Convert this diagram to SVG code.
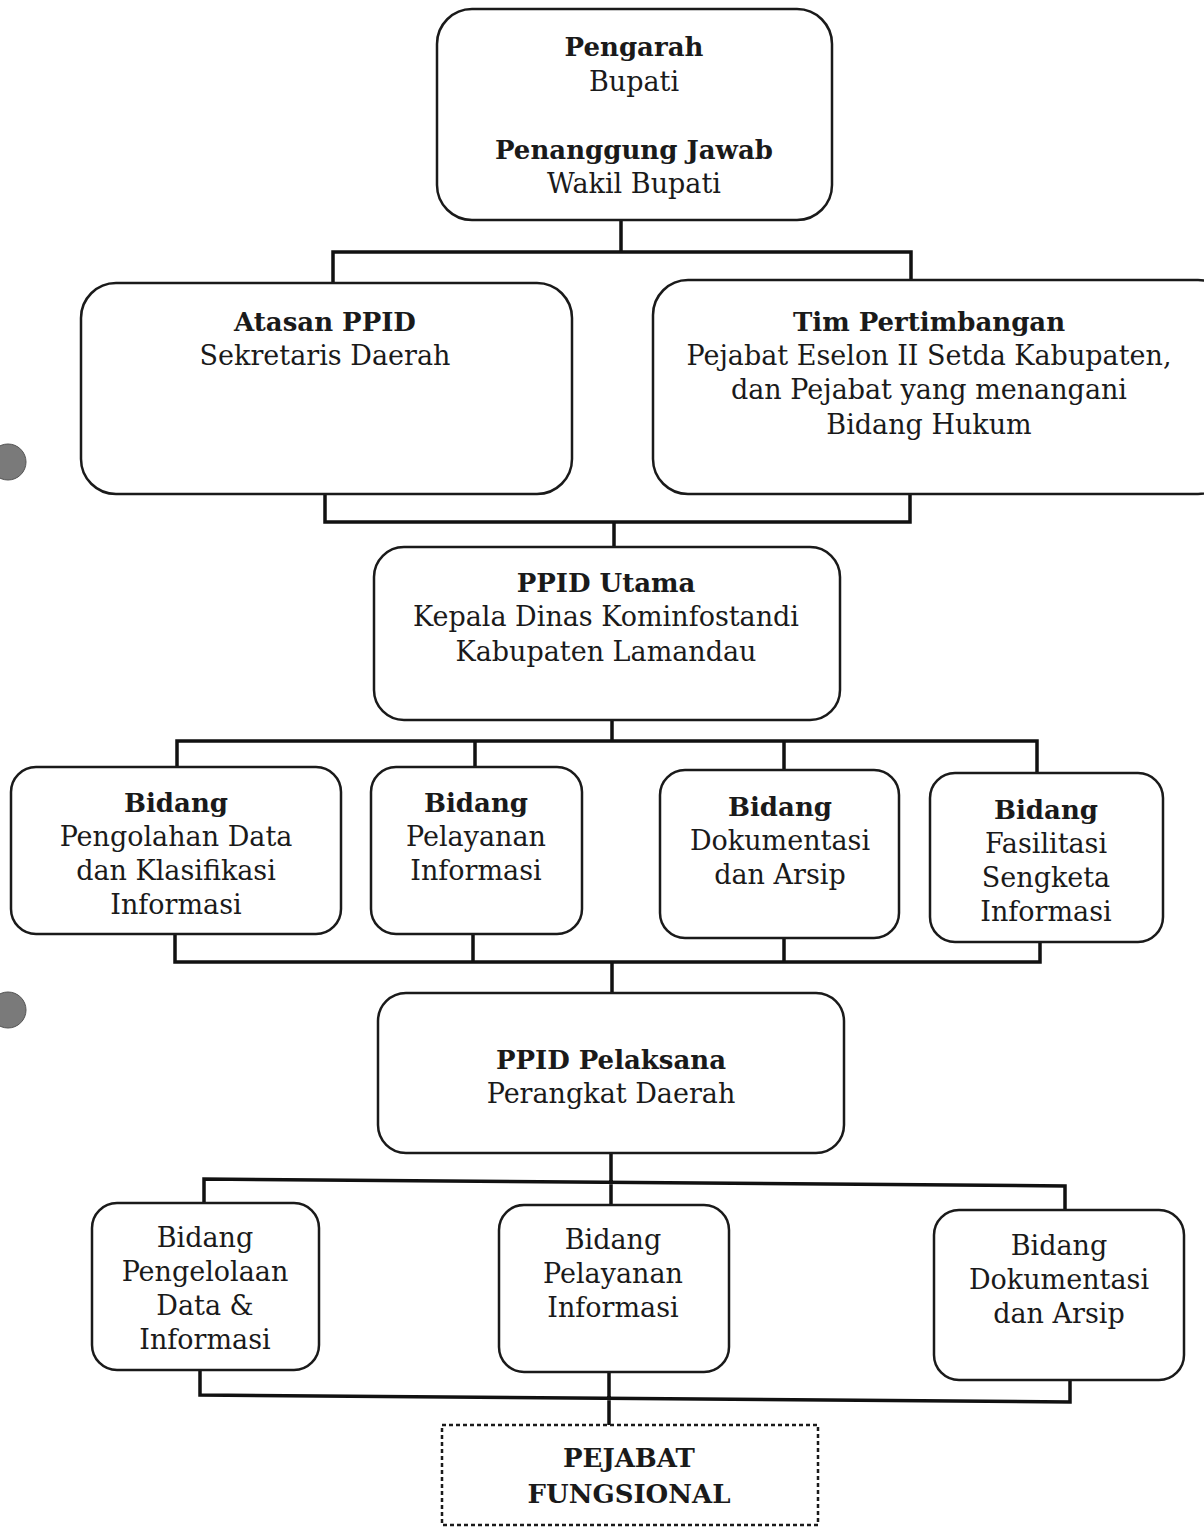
<svg xmlns="http://www.w3.org/2000/svg" width="1204" height="1528" viewBox="0 0 1204 1528">
<style>
.box{fill:#fff;stroke:#1a1a1a;stroke-width:2.5}
.dash{fill:#fff;stroke:#1a1a1a;stroke-width:2.5;stroke-dasharray:4 3}
.ln{fill:none;stroke:#111;stroke-width:3.5;stroke-linecap:square}
text{font-family:"DejaVu Serif","Liberation Serif",serif;font-size:27px;fill:#1a1a1a;text-anchor:middle}
.b{font-weight:bold;font-size:26px}
.hole{fill:#7a7a7a;stroke:#555;stroke-width:1}
</style>
<rect width="1204" height="1528" fill="#fff"/>
<circle class="hole" cx="8" cy="462" r="18"/>
<circle class="hole" cx="8" cy="1010" r="18"/>
<g id="connectors">
<path class="ln" d="M621 220V252M333 283V252H911V280"/>
<path class="ln" d="M325 494V522H910V494M614 522V547"/>
<path class="ln" d="M612 720V741M177 767V741H1037V773M475 741V767M784 741V770"/>
<path class="ln" d="M175 934V962H1040V942M473 934V962M784 938V962M612 962V993"/>
<path class="ln" d="M611 1153V1205M204 1203V1179L1065 1186V1210"/>
<path class="ln" d="M200 1370V1395L1070 1402V1380M609 1372V1425"/>
</g>
<g id="n-pengarah">
<rect class="box" x="437" y="9" width="395" height="211" rx="35"/>
<text class="b" x="634" y="56">Pengarah</text>
<text x="634" y="91">Bupati</text>
<text class="b" x="634" y="159">Penanggung Jawab</text>
<text x="634" y="193">Wakil Bupati</text>
</g>
<g id="n-atasan">
<rect class="box" x="81" y="283" width="491" height="211" rx="35"/>
<text class="b" x="325" y="331">Atasan PPID</text>
<text x="325" y="365">Sekretaris Daerah</text>
</g>
<g id="n-tim">
<rect class="box" x="653" y="280" width="580" height="214" rx="35"/>
<text class="b" x="929" y="331">Tim Pertimbangan</text>
<text x="929" y="365">Pejabat Eselon II Setda Kabupaten,</text>
<text x="929" y="399">dan Pejabat yang menangani</text>
<text x="929" y="434">Bidang Hukum</text>
</g>
<g id="n-utama">
<rect class="box" x="374" y="547" width="466" height="173" rx="30"/>
<text class="b" x="606" y="592">PPID Utama</text>
<text x="606" y="626">Kepala Dinas Kominfostandi</text>
<text x="606" y="661">Kabupaten Lamandau</text>
</g>
<g id="n-b1">
<rect class="box" x="11" y="767" width="330" height="167" rx="25"/>
<text class="b" x="176" y="812">Bidang</text>
<text x="176" y="846">Pengolahan Data</text>
<text x="176" y="880">dan Klasifikasi</text>
<text x="176" y="914">Informasi</text>
</g>
<g id="n-b2">
<rect class="box" x="371" y="767" width="211" height="167" rx="25"/>
<text class="b" x="476" y="812">Bidang</text>
<text x="476" y="846">Pelayanan</text>
<text x="476" y="880">Informasi</text>
</g>
<g id="n-b3">
<rect class="box" x="660" y="770" width="239" height="168" rx="25"/>
<text class="b" x="780" y="816">Bidang</text>
<text x="780" y="850">Dokumentasi</text>
<text x="780" y="884">dan Arsip</text>
</g>
<g id="n-b4">
<rect class="box" x="930" y="773" width="233" height="169" rx="25"/>
<text class="b" x="1046" y="819">Bidang</text>
<text x="1046" y="853">Fasilitasi</text>
<text x="1046" y="887">Sengketa</text>
<text x="1046" y="921">Informasi</text>
</g>
<g id="n-pelaksana">
<rect class="box" x="378" y="993" width="466" height="160" rx="28"/>
<text class="b" x="611" y="1069">PPID Pelaksana</text>
<text x="611" y="1103">Perangkat Daerah</text>
</g>
<g id="n-c1">
<rect class="box" x="92" y="1203" width="227" height="167" rx="25"/>
<text x="205" y="1247">Bidang</text>
<text x="205" y="1281">Pengelolaan</text>
<text x="205" y="1315">Data &amp;</text>
<text x="205" y="1349">Informasi</text>
</g>
<g id="n-c2">
<rect class="box" x="499" y="1205" width="230" height="167" rx="25"/>
<text x="613" y="1249">Bidang</text>
<text x="613" y="1283">Pelayanan</text>
<text x="613" y="1317">Informasi</text>
</g>
<g id="n-c3">
<rect class="box" x="934" y="1210" width="250" height="170" rx="25"/>
<text x="1059" y="1255">Bidang</text>
<text x="1059" y="1289">Dokumentasi</text>
<text x="1059" y="1323">dan Arsip</text>
</g>
<g id="n-fungsional">
<rect class="dash" x="442" y="1425" width="376" height="100"/>
<text class="b" x="629" y="1467">PEJABAT</text>
<text class="b" x="629" y="1503">FUNGSIONAL</text>
</g>
</svg>
